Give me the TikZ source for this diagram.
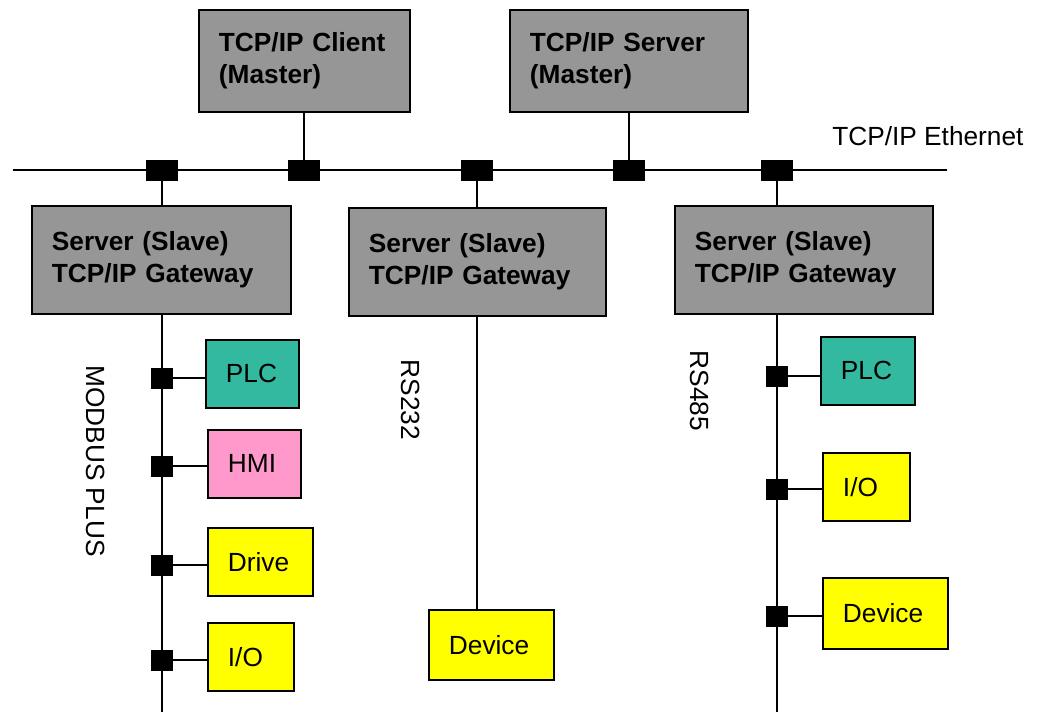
\documentclass[tikz,border=0pt]{standalone}
\usepackage{fontspec}
\setmainfont{Liberation Sans}
\newlength{\pxu}\setlength{\pxu}{0.75pt}
\definecolor{gwgray}{RGB}{150,150,150}
\definecolor{plcteal}{RGB}{51,185,160}
\definecolor{hmipink}{RGB}{255,153,204}
\definecolor{devyellow}{RGB}{255,255,0}
\begin{document}
\begin{tikzpicture}[x=0.75pt,y=-0.75pt,
  wire/.style={draw=black,line width=1.1pt},
  boxbase/.style={draw=black,line width=1.4pt,anchor=north west,inner xsep=15pt,inner ysep=0pt,align=left,font=\fontsize{19.7pt}{24pt}\selectfont},
  gwbox/.style={boxbase,fill=gwgray,font=\fontsize{19.7pt}{24pt}\selectfont\bfseries},
  plcbox/.style={boxbase,fill=plcteal},
  hmibox/.style={boxbase,fill=hmipink},
  ylwbox/.style={boxbase,fill=devyellow},
  tap/.style={fill=black,inner sep=0pt,minimum width=32\pxu,minimum height=21\pxu},
  vtap/.style={fill=black,inner sep=0pt,minimum width=22\pxu,minimum height=21\pxu},
  lbl/.style={inner sep=0pt,font=\fontsize{19.7pt}{24pt}\selectfont},
]
\useasboundingbox (0,0) rectangle (1037,712);

% top masters
\node[gwbox,minimum width=211\pxu,minimum height=102\pxu,text width=128.25pt] (client) at (198,9) {TCP/IP Client\\(Master)};
\node[gwbox,minimum width=238\pxu,minimum height=102\pxu,text width=148.5pt] (server) at (509,9) {TCP/IP Server\\(Master)};

% gateways
\node[gwbox,minimum width=259\pxu,minimum height=108\pxu,text width=164.25pt] (gw1) at (31,205) {Server (Slave)\\TCP/IP Gateway};
\node[gwbox,minimum width=257\pxu,minimum height=108\pxu,text width=162.75pt] (gw2) at (348,207) {Server (Slave)\\TCP/IP Gateway};
\node[gwbox,minimum width=258\pxu,minimum height=108\pxu,text width=163.5pt] (gw3) at (674,205) {Server (Slave)\\TCP/IP Gateway};

% devices on MODBUS PLUS
\node[plcbox,minimum width=93\pxu,minimum height=68\pxu,text width=39.75pt] (plc1) at (205,339) {PLC};
\node[hmibox,minimum width=93\pxu,minimum height=68\pxu,text width=39.75pt] (hmi) at (207,429) {HMI};
\node[ylwbox,minimum width=105\pxu,minimum height=68\pxu,text width=48.75pt] (drive) at (207,527) {Drive};
\node[ylwbox,minimum width=86\pxu,minimum height=68\pxu,text width=34.5pt] (io1) at (207,622) {I/O};

% RS232 device
\node[ylwbox,minimum width=125\pxu,minimum height=70\pxu,text width=63.75pt] (dev2) at (428,609) {Device};

% devices on RS485
\node[plcbox,minimum width=94\pxu,minimum height=68\pxu,text width=40.5pt] (plc3) at (820,336) {PLC};
\node[ylwbox,minimum width=87\pxu,minimum height=68\pxu,text width=35.25pt] (io3) at (822,452) {I/O};
\node[ylwbox,minimum width=125\pxu,minimum height=71\pxu,text width=63.75pt] (dev3) at (822,577) {Device};

% Ethernet
\coordinate (ethW) at (13,170);
\coordinate (ethE) at (947,170);
\draw[wire] (ethW) -- (ethE);
\node[tap] (e1) at (162,170.5) {};
\node[tap] (e2) at (304,170.5) {};
\node[tap] (e3) at (477,170.5) {};
\node[tap] (e4) at (629,170.5) {};
\node[tap] (e5) at (777,170.5) {};
\draw[wire] (e2.center) -- (e2.center |- client.south);
\draw[wire] (e4.center) -- (e4.center |- server.south);
\draw[wire] (e1.center) -- (e1.center |- gw1.north);
\draw[wire] (e3.center) -- (e3.center |- gw2.north);
\draw[wire] (e5.center) -- (e5.center |- gw3.north);

% MODBUS PLUS bus
\coordinate (b1) at (162,712);
\draw[wire] (b1 |- gw1.south) -- (b1);
\node[vtap] (m1) at (162,378) {};
\node[vtap] (m2) at (162,466) {};
\node[vtap] (m3) at (162,565) {};
\node[vtap] (m4) at (162,660) {};
\draw[wire] (m1.center) -- (m1.center -| plc1.west);
\draw[wire] (m2.center) -- (m2.center -| hmi.west);
\draw[wire] (m3.center) -- (m3.center -| drive.west);
\draw[wire] (m4.center) -- (m4.center -| io1.west);

% RS232
\draw[wire] (e3.center |- gw2.south) -- (e3.center |- dev2.north);

% RS485 bus
\coordinate (b3) at (777,712);
\draw[wire] (b3 |- gw3.south) -- (b3);
\node[vtap] (r1) at (777,376) {};
\node[vtap] (r2) at (777,489) {};
\node[vtap] (r3) at (777,616) {};
\draw[wire] (r1.center) -- (r1.center -| plc3.west);
\draw[wire] (r2.center) -- (r2.center -| io3.west);
\draw[wire] (r3.center) -- (r3.center -| dev3.west);

% labels
\node[lbl,anchor=base west] (ethlbl) at (832,146) {TCP/IP Ethernet};
\node[lbl,rotate=-90] (mbp) at (95.5,461) {MODBUS PLUS};
\node[lbl,rotate=-90] (rs232) at (410.5,400) {RS232};
\node[lbl,rotate=-90] (rs485) at (699.5,391) {RS485};
\end{tikzpicture}
\end{document}
